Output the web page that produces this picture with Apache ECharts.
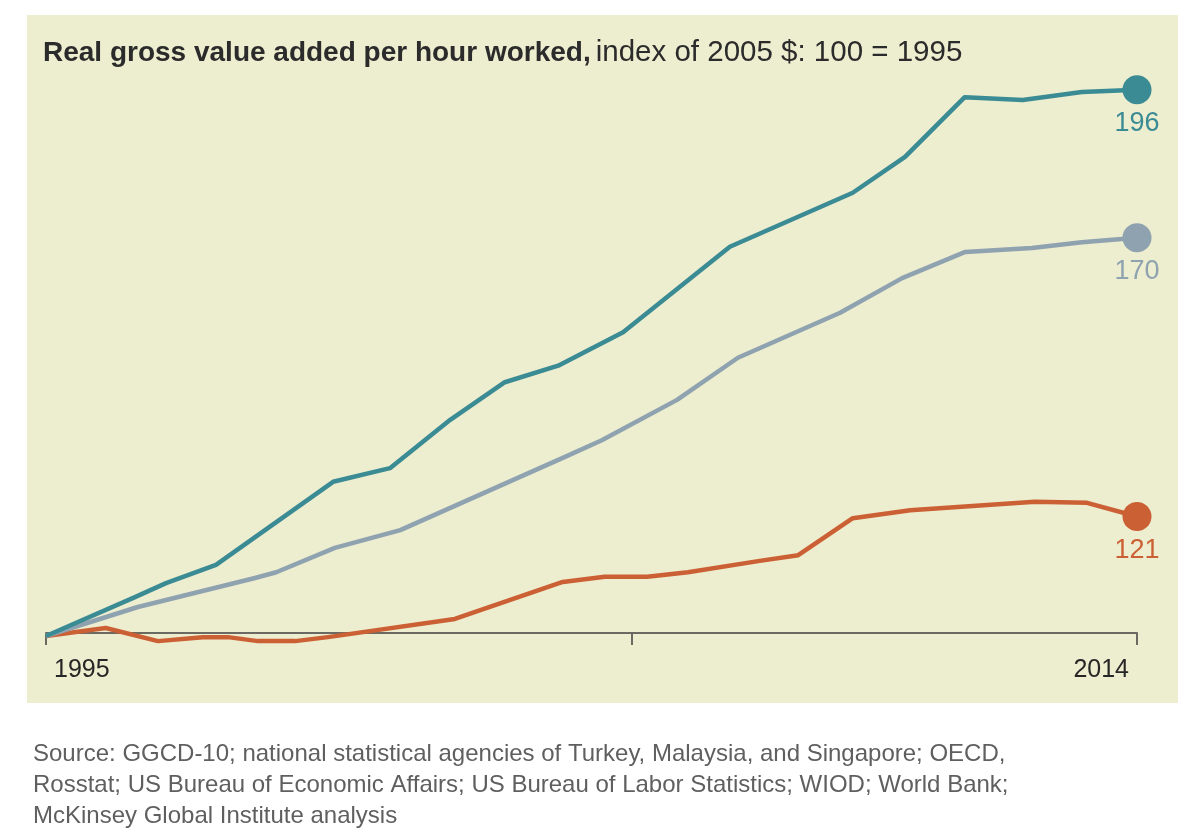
<!DOCTYPE html>
<html>
<head>
<meta charset="utf-8">
<title>Real gross value added per hour worked</title>
<script src="https://cdn.jsdelivr.net/npm/echarts@6/dist/echarts.min.js"></script>
<style>
    html, body { margin: 0; padding: 0; background: #fff; }
    #chart { width: 1200px; height: 837px; }
</style>
</head>
<body>
<div id="chart"></div>
<script>
// values (index, 1995 = 100)
var tealYears = [1995, 1996.52, 1997.09, 1997.96, 2000.0, 2000.99, 2002.04, 2002.99, 2003.92, 2005.05, 2006.91, 2009.05, 2009.96, 2011.0, 2012.01, 2013.04, 2014];
var tealValues = [100, 106.7, 109.3, 112.5, 127.1, 129.5, 138.0, 144.6, 147.5, 153.4, 168.4, 177.9, 184.2, 194.7, 194.2, 195.6, 196];

var greyYears = [1995, 1996.6, 1998.64, 1999.01, 2000.03, 2001.17, 2004.0, 2004.68, 2005.99, 2007.05, 2008.83, 2009.91, 2011.01, 2012.17, 2013.04, 2014];
var greyValues = [100, 105.1, 110.2, 111.2, 115.5, 118.6, 131.3, 134.4, 141.5, 148.9, 156.8, 162.9, 167.5, 168.2, 169.2, 170];

var orangeYears = [1995, 1996.04, 1996.95, 1997.73, 1998.17, 1998.69, 1999.34, 1999.91, 2002.12, 2004.0, 2004.73, 2005.47, 2006.18, 2007.43, 2008.1, 2009.05, 2010.05, 2012.22, 2013.13, 2014];
var orangeValues = [100, 101.4, 99.1, 99.8, 99.8, 99.1, 99.1, 99.8, 103.0, 109.5, 110.4, 110.4, 111.2, 113.2, 114.2, 120.7, 122.1, 123.6, 123.4, 121];

var tickYears = [1995, 2005.2, 2014];
var labelYears = [1995, 2014];

var colors = { teal: '#3b8b95', grey: '#8fa2b0', orange: '#cc6035' };
var font = '"Liberation Sans", Arial, Helvetica, sans-serif';

function pairs(xs, ys) {
    var out = [];
    for (var i = 0; i < xs.length; i++) out.push([xs[i], ys[i]]);
    return out;
}

function lineSeries(name, xs, ys, color, z) {
    return {
        name: name,
        type: 'line',
        data: pairs(xs, ys),
        symbol: 'none',
        clip: false,
        z: z,
        lineStyle: { color: color, width: 4.5, join: 'round' },
        silent: true
    };
}

// end dots with their value under them
var endPoints = [
    { value: [tealYears[tealYears.length - 1], tealValues[tealValues.length - 1]], color: colors.teal },
    { value: [greyYears[greyYears.length - 1], greyValues[greyValues.length - 1]], color: colors.grey },
    { value: [orangeYears[orangeYears.length - 1], orangeValues[orangeValues.length - 1]], color: colors.orange }
].map(function (p) {
    return {
        value: p.value,
        itemStyle: { color: p.color, opacity: 1 },
        label: { color: p.color }
    };
});

var chart = echarts.init(document.getElementById('chart'), null, { renderer: 'canvas' });

chart.setOption({
    backgroundColor: '#ffffff',
    animation: false,
    textStyle: { fontFamily: font },
    graphic: [{
        type: 'rect',
        shape: { x: 27, y: 15, width: 1151, height: 688 },
        style: { fill: '#ededcf' },
        z: -10,
        silent: true
    }, {
        type: 'text',
        left: 33,
        top: 739,
        style: {
            text: 'Source: GGCD-10; national statistical agencies of Turkey, Malaysia, and Singapore; OECD,\n' +
                'Rosstat; US Bureau of Economic Affairs; US Bureau of Labor Statistics; WIOD; World Bank;\n' +
                'McKinsey Global Institute analysis',
            font: '24px ' + font,
            fill: '#5f5f5f',
            lineHeight: 31
        }
    }],
    title: {
        left: 38,
        top: 33,
        text: '{b|Real gross value added per hour worked,} {n|index of 2005 $: 100 = 1995}',
        textStyle: {
            rich: {
                b: { fontSize: 28, fontWeight: 'bold', color: '#2b2b2b', fontFamily: font },
                n: { fontSize: 29.5, fontWeight: 'normal', color: '#2b2b2b', fontFamily: font }
            }
        }
    },
    grid: { left: 46, right: 63, top: 67, bottom: 201, containLabel: false },
    xAxis: {
        type: 'value',
        min: 1995,
        max: 2014,
        offset: -3,
        splitLine: { show: false },
        axisLine: { show: true, onZero: false, lineStyle: { color: '#6a6a62', width: 2 } },
        axisTick: {
            show: true,
            customValues: tickYears,
            length: 12,
            lineStyle: { color: '#6a6a62', width: 2 }
        },
        axisLabel: {
            customValues: labelYears,
            fontSize: 25,
            color: '#262626',
            margin: 25,
            padding: [0, 8, 0, 8],
            alignMinLabel: 'left',
            alignMaxLabel: 'right',
            formatter: function (v) { return String(Math.round(v)); }
        }
    },
    yAxis: {
        type: 'value',
        min: 100,
        max: 200,
        show: false,
        splitLine: { show: false }
    },
    series: [
        lineSeries('Orange', orangeYears, orangeValues, colors.orange, 2),
        lineSeries('Grey', greyYears, greyValues, colors.grey, 3),
        lineSeries('Teal', tealYears, tealValues, colors.teal, 4),
        {
            type: 'scatter',
            data: endPoints,
            symbol: 'circle',
            symbolSize: 29,
            z: 5,
            silent: true,
            label: {
                show: true,
                position: 'bottom',
                distance: 6,
                fontSize: 27,
                fontFamily: font,
                formatter: function (p) { return String(Math.round(p.value[1])); }
            }
        }
    ]
});

window.onresize = chart.resize;
</script>
</body>
</html>
